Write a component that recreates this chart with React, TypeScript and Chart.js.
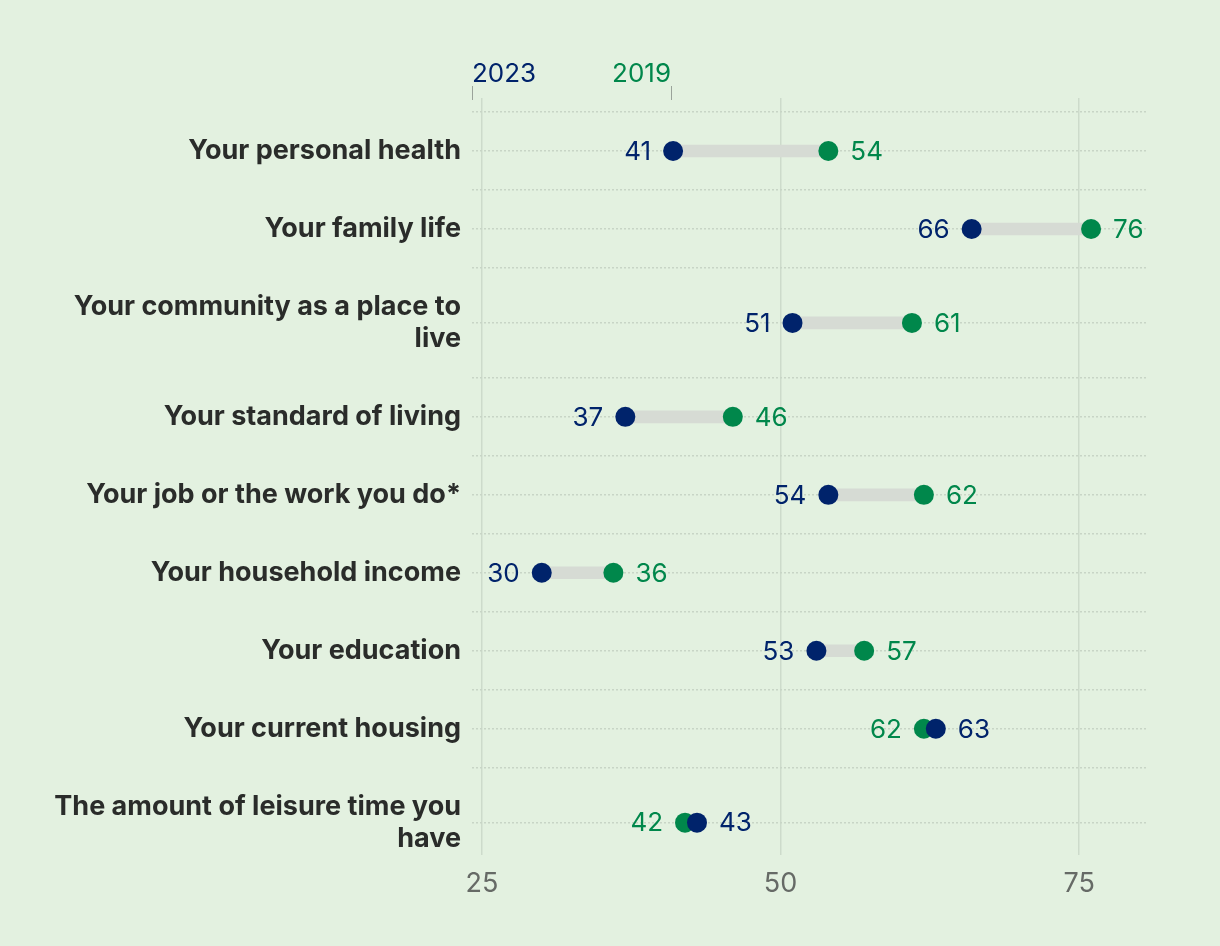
import React, { useEffect, useRef } from 'react';
import { Chart, registerables } from 'chart.js';

Chart.register(...registerables);

// ---- data ----
const categories: string[][] = [
  ['Your personal health'],
  ['Your family life'],
  ['Your community as a place to', 'live'],
  ['Your standard of living'],
  ['Your job or the work you do*'],
  ['Your household income'],
  ['Your education'],
  ['Your current housing'],
  ['The amount of leisure time you', 'have'],
];
const values2023 = [41, 66, 51, 37, 54, 30, 53, 63, 43];
const values2019 = [54, 76, 61, 46, 62, 36, 57, 62, 42];
const xTickValues = [25, 50, 75];
const seriesLabels = ['2023', '2019'];

// ---- style ----
const BG = '#e3f1e0';
const NAVY = '#00236b';
const GREEN = '#00874b';
const TEXT = '#2a2c2a';
const FONT = 'Inter, "Noto Sans", sans-serif';

// row layout derived from label line counts (single row = 1 unit)
const rowHeights = categories.map((l) => 1 + 0.41 * (l.length - 1));
const rowStarts: number[] = [];
const rowCenters: number[] = [];
{
  let acc = 0;
  rowHeights.forEach((h) => {
    rowStarts.push(acc);
    rowCenters.push(acc + h / 2);
    acc += h;
  });
}

const valueLabelPlugin = {
  id: 'valueLabels',
  afterDatasetsDraw(chart: any) {
    const { ctx, scales } = chart;
    const xs = scales.x;
    const ys = scales.y;
    ctx.save();
    ctx.font = `26px ${FONT}`;
    ctx.textBaseline = 'middle';
    categories.forEach((_, i) => {
      const a = values2023[i];
      const b = values2019[i];
      const y = ys.getPixelForValue(rowCenters[i]) + 1;
      const lowIs2023 = a <= b;
      const low = lowIs2023 ? a : b;
      const high = lowIs2023 ? b : a;
      ctx.textAlign = 'right';
      ctx.fillStyle = lowIs2023 ? NAVY : GREEN;
      ctx.fillText(String(low), xs.getPixelForValue(low) - 22, y);
      ctx.textAlign = 'left';
      ctx.fillStyle = lowIs2023 ? GREEN : NAVY;
      ctx.fillText(String(high), xs.getPixelForValue(high) + 22, y);
    });
    ctx.restore();
  },
};

const headerPlugin = {
  id: 'seriesHeader',
  afterDraw(chart: any) {
    const { ctx, chartArea } = chart;
    const left = chartArea.left;
    const right2019 = chartArea.left + 199;
    ctx.save();
    ctx.font = `26px ${FONT}`;
    ctx.textBaseline = 'alphabetic';
    ctx.textAlign = 'left';
    ctx.fillStyle = NAVY;
    ctx.fillText(seriesLabels[0], left, 82);
    ctx.textAlign = 'right';
    ctx.fillStyle = GREEN;
    ctx.fillText(seriesLabels[1], right2019, 82);
    ctx.strokeStyle = '#9aa39a';
    ctx.lineWidth = 1;
    ctx.beginPath();
    ctx.moveTo(left + 0.5, 86);
    ctx.lineTo(left + 0.5, 100);
    ctx.moveTo(right2019 + 0.5, 86);
    ctx.lineTo(right2019 + 0.5, 100);
    ctx.stroke();
    ctx.restore();
  },
};

export default function App() {
  const ref = useRef<HTMLCanvasElement | null>(null);

  useEffect(() => {
    document.body.style.margin = '0';
    document.body.style.background = BG;
    const canvas = ref.current;
    if (!canvas) return;

    const chart = new Chart(canvas, {
      type: 'scatter',
      data: {
        datasets: [
          {
            type: 'scatter',
            label: seriesLabels[0],
            data: values2023.map((v, i) => ({ x: v, y: rowCenters[i] })),
            backgroundColor: NAVY,
            borderWidth: 0,
            pointRadius: 10,
            pointHoverRadius: 10,
            order: 0,
          } as any,
          {
            type: 'scatter',
            label: seriesLabels[1],
            data: values2019.map((v, i) => ({ x: v, y: rowCenters[i] })),
            backgroundColor: GREEN,
            borderWidth: 0,
            pointRadius: 10,
            pointHoverRadius: 10,
            order: 1,
          } as any,
          {
            type: 'bar',
            label: 'change',
            indexAxis: 'y',
            data: values2023.map((v, i) => ({ x: [v, values2019[i]], y: rowCenters[i] })),
            backgroundColor: '#d6dbd4',
            borderWidth: 0,
            barThickness: 12,
            order: 2,
          } as any,
        ],
      },
      options: {
        animation: false,
        responsive: false,
        devicePixelRatio: 1,
        layout: { padding: { top: 98, right: 74, left: 0, bottom: 0 } },
        plugins: {
          legend: { display: false },
          tooltip: { enabled: false },
        },
        scales: {
          x: {
            type: 'linear',
            offset: false,
            min: 24.16,
            max: 80.6,
            afterBuildTicks: (scale: any) => {
              scale.ticks = xTickValues.map((v) => ({ value: v }));
            },
            afterFit: (scale: any) => {
              scale.height = 91;
            },
            grid: { color: '#cddbcb', lineWidth: 1.5, drawTicks: false, offset: false },
            border: { display: false },
            ticks: {
              color: '#666a66',
              font: { family: FONT, size: 27 },
              padding: 13,
              autoSkip: false,
              maxRotation: 0,
            },
          },
          y: {
            type: 'linear',
            reverse: true,
            offset: false,
            min: -0.18,
            max: 9.53,
            afterBuildTicks: (scale: any) => {
              const vals = [...rowStarts, ...rowCenters].sort((p, q) => p - q);
              scale.ticks = vals.map((v) => ({ value: v }));
            },
            afterFit: (scale: any) => {
              scale.width = 472;
            },
            grid: { color: '#c8d5c6', lineWidth: 1.5, drawTicks: false, offset: false },
            border: { display: false, dash: [2, 2] },
            ticks: {
              autoSkip: false,
              padding: 11,
              color: TEXT,
              font: { family: FONT, size: 27, weight: 'bold', lineHeight: 1.2 },
              callback: (value: any) => {
                const idx = rowCenters.findIndex((c) => Math.abs(c - Number(value)) < 1e-6);
                return idx >= 0 ? categories[idx] : '';
              },
            },
          },
        },
      },
      plugins: [valueLabelPlugin, headerPlugin],
    } as any);

    return () => chart.destroy();
  }, []);

  return (
    <div style={{ width: 1220, height: 946, background: BG }}>
      <canvas ref={ref} width={1220} height={946} style={{ display: 'block' }} />
    </div>
  );
}
